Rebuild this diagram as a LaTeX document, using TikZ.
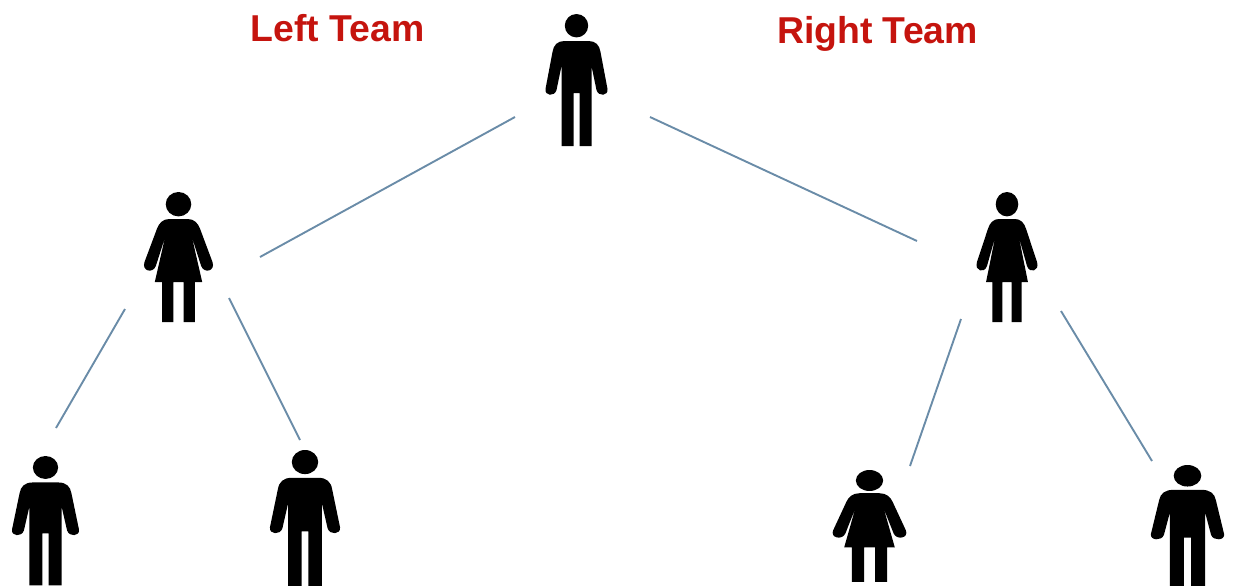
\documentclass[tikz,border=0pt]{standalone}
\usepackage{fontspec}
\setmainfont{Liberation Sans}
\definecolor{teamred}{HTML}{C5140E}
\definecolor{linkblue}{HTML}{6A8CA8}
\tikzset{
	teamlabel/.style={text=teamred, font=\fontsize{18.7}{22}\selectfont\bfseries},
	teamlink/.style={draw=linkblue, line width=0.95pt},
	manicon/.pic={
		\fill[black] (0,11.7) circle [x radius=11.7, y radius=11.7];
		\fill[black] (-3,79) -- (-3,132) -- (-15,132) -- (-15,52) -- (-20,76)
			.. controls (-22,83) and (-32,82) .. (-31,75)
			-- (-24,38) .. controls (-23,31) and (-19,27) .. (-12,27)
			-- (12,27) .. controls (19,27) and (23,31) .. (24,38)
			-- (31,75) .. controls (32,82) and (22,83) .. (20,76)
			-- (15,52) -- (15,132) -- (3,132) -- (3,79) -- cycle;
	},
	womanicon/.pic={
		\fill[black] (0,12.2) circle [x radius=12.4, y radius=12.2];
		\fill[black] (-5,90) -- (-5,130) -- (-16,130) -- (-16,90) -- (-23,90) -- (-13,45) -- (-22,74)
			.. controls (-25,82) and (-36,79) .. (-33,70)
			-- (-21,37) .. controls (-19,31) and (-15,27) .. (-9,27)
			-- (9,27) .. controls (15,27) and (19,31) .. (21,37)
			-- (33,70) .. controls (36,79) and (25,82) .. (22,74)
			-- (13,45) -- (23,90) -- (16,90) -- (16,130) -- (5,130) -- (5,90) -- cycle;
	},
}
\begin{document}
\begin{tikzpicture}[x=0.5pt, y=-0.5pt]
	\useasboundingbox (0,0) rectangle (1233,585);

	\node[teamlabel, anchor=base] (lefttitle) at (337.5,41.7) {Left Team};
	\node[teamlabel, anchor=base] (righttitle) at (877.5,43.5) {Right Team};

	\pic (topman) at (576.5,14) {manicon};
	\pic[xscale=1.03] (leftwoman) at (178.5,192) {womanicon};
	\pic[xscale=0.91] (rightwoman) at (1007,192) {womanicon};
	\pic[xscale=1.08, yscale=0.98] (farleftman) at (45.5,456) {manicon};
	\pic[xscale=1.13, yscale=1.03] (midleftman) at (305,450) {manicon};
	\pic[xscale=1.1, yscale=0.86] (midrightwoman) at (869.5,470) {womanicon};
	\pic[xscale=1.18, yscale=0.92] (farrightman) at (1187.5,465) {manicon};

	\coordinate (topleft) at (515,117);
	\coordinate (leftup) at (260,257);
	\coordinate (topright) at (650,117);
	\coordinate (rightup) at (917,241);
	\coordinate (leftdownA) at (125,309);
	\coordinate (farleftup) at (56,428);
	\coordinate (leftdownB) at (229,298);
	\coordinate (midleftup) at (300,440);
	\coordinate (rightdownA) at (961,319);
	\coordinate (midrightup) at (910,466);
	\coordinate (rightdownB) at (1061,311);
	\coordinate (farrightup) at (1152,461);

	\draw[teamlink] (topleft) -- (leftup);
	\draw[teamlink] (topright) -- (rightup);
	\draw[teamlink] (leftdownA) -- (farleftup);
	\draw[teamlink] (leftdownB) -- (midleftup);
	\draw[teamlink] (rightdownA) -- (midrightup);
	\draw[teamlink] (rightdownB) -- (farrightup);
\end{tikzpicture}
\end{document}
